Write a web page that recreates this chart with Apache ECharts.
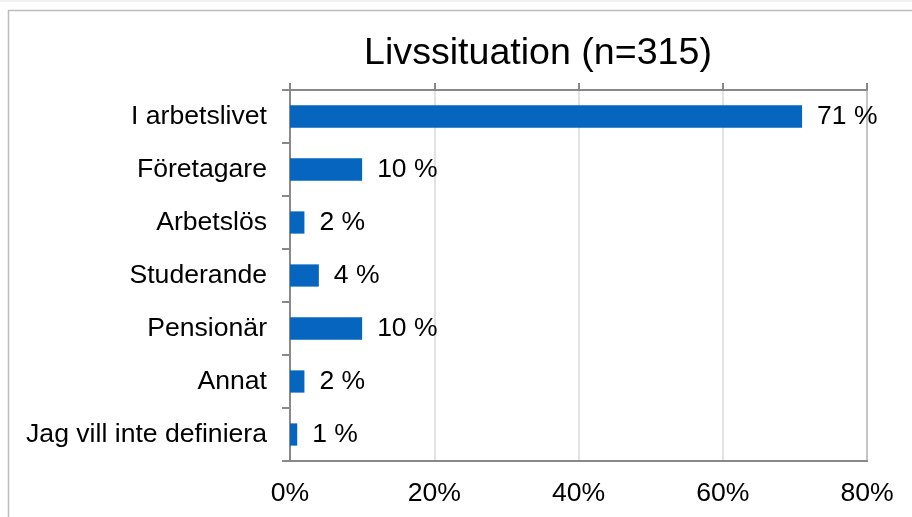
<!DOCTYPE html>
<html><head><meta charset="utf-8">
<script src="https://cdn.jsdelivr.net/npm/echarts@6/dist/echarts.min.js"></script>
<style>html,body{margin:0;padding:0;background:#fff}#c{width:912px;height:517px}</style>
</head><body><div id="c"></div>
<script>
const titleText = 'Livssituation (n=315)';
const categories = ['I arbetslivet','Företagare','Arbetslös','Studerande','Pensionär','Annat','Jag vill inte definiera'];
const values = [71, 10, 2, 4, 10, 2, 1];
const xTicks = [0, 20, 40, 60, 80];

const chart = echarts.init(document.getElementById('c'), null, {renderer:'canvas'});
const font = 'Liberation Sans, Arial, sans-serif';
const axisGray = '#898989';
chart.setOption({
  animation: false,
  backgroundColor: '#fff',
  title: {text: titleText, left: 533, top: 30, textAlign: 'center',
    textStyle: {fontFamily: font, fontSize: 37.6, fontWeight: 'normal', color: '#000'}},
  graphic: [
    {type:'line', shape:{x1:0,y1:1,x2:912,y2:1}, style:{stroke:'#e3e3e3', lineWidth:1}, silent:true},
    {type:'rect', shape:{x:8.5,y:10.5,width:1000,height:600}, style:{fill:null, stroke:'#bdbdbd', lineWidth:1.5}, silent:true, z:-1}
  ],
  grid: {left: 290, top: 90, right: 45, bottom: 56, show: true, borderColor: axisGray, borderWidth: 2, containLabel: false},
  xAxis: [
    {type:'value', position:'top', min: xTicks[0], max: xTicks[xTicks.length-1], interval: 20,
     axisLine:{show:true, lineStyle:{color:axisGray, width:2}},
     axisTick:{show:true, length:7, lineStyle:{color:axisGray, width:2}},
     axisLabel:{show:false},
     splitLine:{show:true, lineStyle:{color:'#d9d9d9', width:1.5}}},
    {type:'value', position:'bottom', min: xTicks[0], max: xTicks[xTicks.length-1], interval: 20,
     axisLine:{show:true, lineStyle:{color:axisGray, width:2}},
     axisTick:{show:false},
     axisLabel:{show:true, margin:19, formatter: v => v + '%', fontFamily: font, fontSize: 26.6, color:'#000'},
     splitLine:{show:false}}
  ],
  yAxis: {type:'category', data: categories, inverse: true,
    axisLine:{show:true, lineStyle:{color:axisGray, width:2}},
    axisTick:{show:true, length:8, lineStyle:{color:axisGray, width:2}},
    axisLabel:{margin:23, fontFamily: font, fontSize: 26.6, color:'#000'}},
  series: [{type:'bar', xAxisIndex:0, data: values, barCategoryGap:'58%',
    itemStyle:{color:'#0565bf'},
    label:{show:true, position:'right', distance:15, formatter: p => p.value + ' %',
      fontFamily: font, fontSize: 26.5, color:'#000'}}]
});
</script></body></html>
